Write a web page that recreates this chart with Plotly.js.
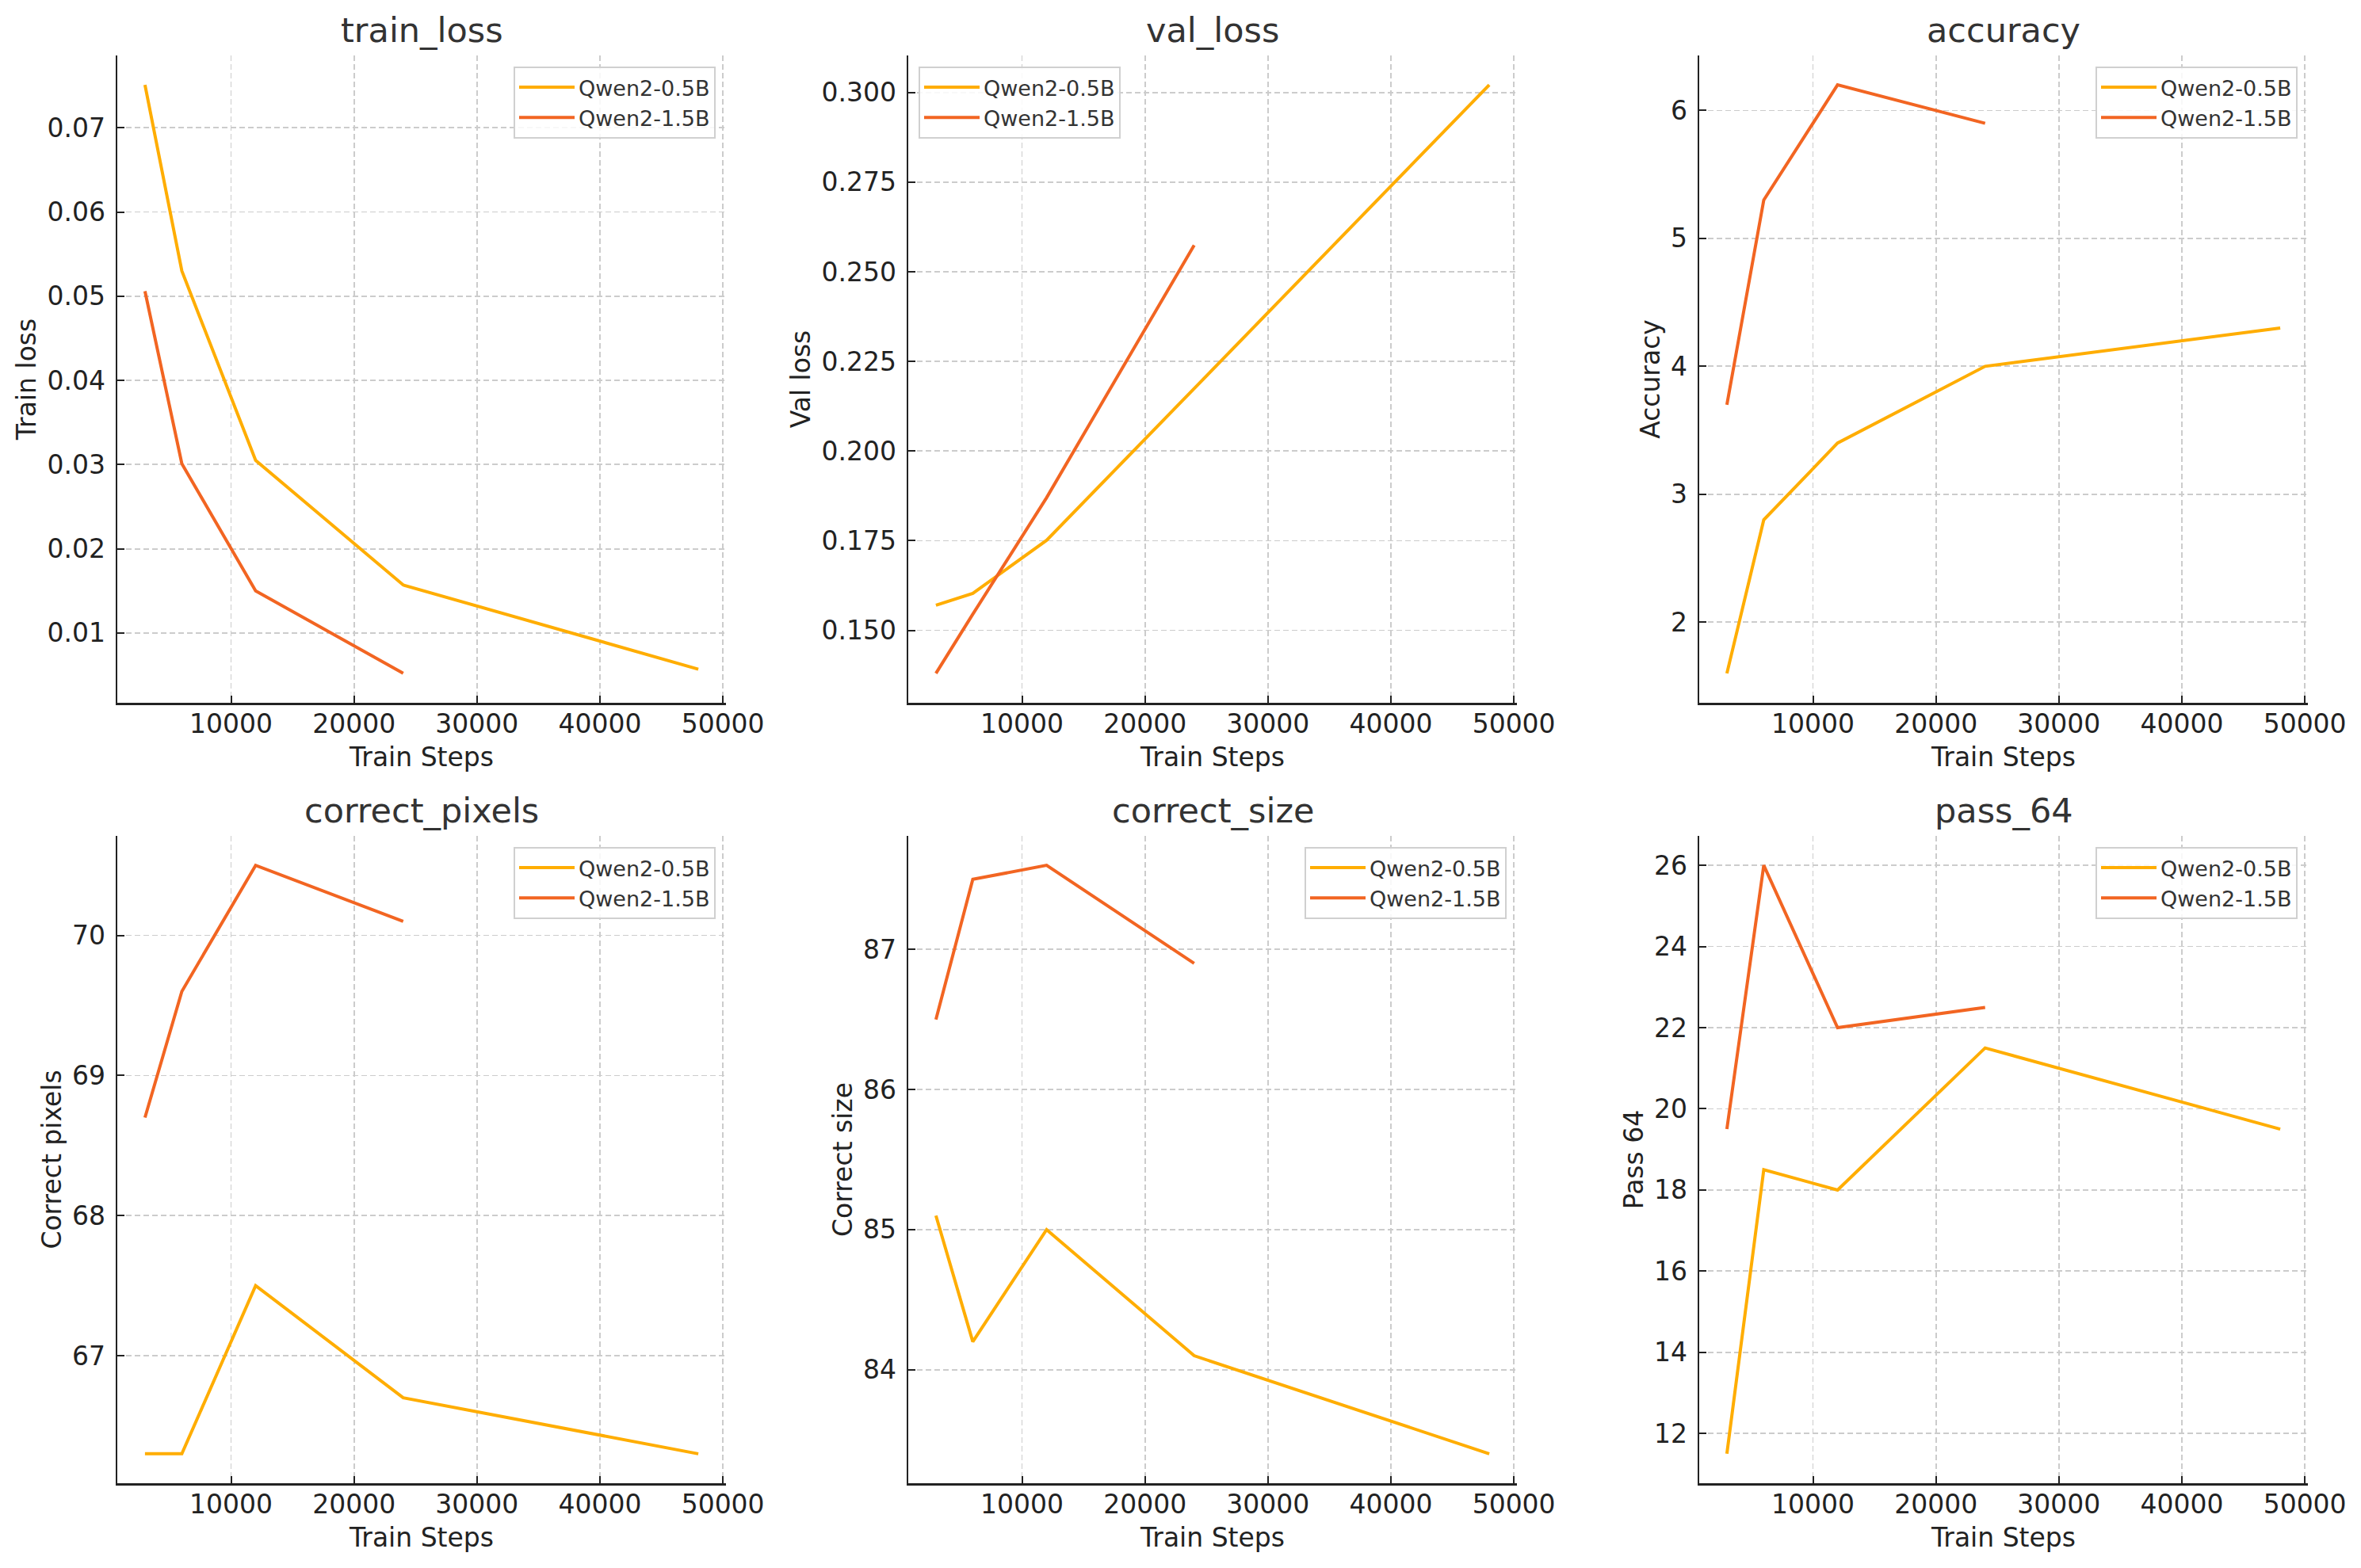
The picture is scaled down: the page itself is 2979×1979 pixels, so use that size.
<!DOCTYPE html>
<html>
<head>
<meta charset="utf-8">
<script src="https://cdn.plot.ly/plotly-3.0.1.min.js"></script>
<style>html,body{margin:0;padding:0;background:#fff;}</style>
</head>
<body>
<div id="chart" style="width:2979px;height:1979px;"></div>
<script>
// ---- data ----
const seriesNames = ["Qwen2-0.5B", "Qwen2-1.5B"];
const steps05 = [3000, 6000, 12000, 24000, 48000];
const steps15 = [3000, 6000, 12000, 24000];

const panelTitles = ["train_loss", "val_loss", "accuracy", "correct_pixels", "correct_size", "pass_64"];
const yLabels = ["Train loss", "Val loss", "Accuracy", "Correct pixels", "Correct size", "Pass 64"];
const xLabel = "Train Steps";
const xTicks = [10000, 20000, 30000, 40000, 50000];

const train_loss_05 = [0.0751, 0.0530, 0.0305, 0.0157, 0.0057];
const train_loss_15 = [0.0506, 0.0301, 0.0150, 0.0052];
const val_loss_05 = [0.157, 0.1603, 0.1751, 0.2175, 0.3021];
const val_loss_15 = [0.138, 0.1545, 0.187, 0.2574];
const accuracy_05 = [1.6, 2.8, 3.4, 4.0, 4.3];
const accuracy_15 = [3.7, 5.3, 6.2, 5.9];
const pixels_05 = [66.3, 66.3, 67.5, 66.7, 66.3];
const pixels_15 = [68.7, 69.6, 70.5, 70.1];
const size_05 = [85.1, 84.2, 85.0, 84.1, 83.4];
const size_15 = [86.5, 87.5, 87.6, 86.9];
const pass_05 = [11.5, 18.5, 18.0, 21.5, 19.5];
const pass_15 = [19.5, 26.0, 22.0, 22.5];

const panelData05 = [train_loss_05, val_loss_05, accuracy_05, pixels_05, size_05, pass_05];
const panelData15 = [train_loss_15, val_loss_15, accuracy_15, pixels_15, size_15, pass_15];

// ---- styling ----
const colors = ["#FFAD00", "#F26522"];
const W = 2979, H = 1979;
const FONT = "DejaVu Sans";
const colPx = [[148, 916], [1146, 1914], [2144, 2912]];
const rowPx = [[70, 887], [1055, 1872]];
const yTickFmt = [".2f", ".3f", "", "", "", ""];
const yDtick = [0.01, 0.025, 1, 1, 1, 2];
const legendSide = ["right", "left", "right", "right", "right", "right"];

function padRange(arr) {
  const mn = Math.min(...arr), mx = Math.max(...arr);
  const p = (mx - mn) * 0.05;
  return [mn - p, mx + p];
}

const traces = [];
const layout = {
  width: W, height: H,
  margin: {l: 0, r: 0, t: 0, b: 0},
  paper_bgcolor: "#ffffff",
  plot_bgcolor: "#ffffff",
  font: {family: FONT, color: "#222222", size: 33},
  showlegend: true,
  annotations: []
};

const xr = padRange(steps05.concat(steps15));

for (let i = 0; i < 6; i++) {
  const r = Math.floor(i / 3), c = i % 3;
  const sfx = i === 0 ? "" : String(i + 1);
  const xa = "xaxis" + sfx, ya = "yaxis" + sfx;
  const lg = i === 0 ? "legend" : "legend" + (i + 1);
  const xd = [colPx[c][0] / W, colPx[c][1] / W];
  const yd = [1 - rowPx[r][1] / H, 1 - rowPx[r][0] / H];

  traces.push({
    x: steps05, y: panelData05[i], type: "scatter", mode: "lines",
    name: seriesNames[0], line: {color: colors[0], width: 4},
    xaxis: "x" + sfx, yaxis: "y" + sfx, legend: lg
  });
  traces.push({
    x: steps15, y: panelData15[i], type: "scatter", mode: "lines",
    name: seriesNames[1], line: {color: colors[1], width: 4},
    xaxis: "x" + sfx, yaxis: "y" + sfx, legend: lg
  });

  const common = {
    showline: true, linecolor: "#222222", linewidth: 2.5,
    ticks: "inside", ticklen: 9, tickwidth: 2, tickcolor: "#222222",
    showgrid: true, gridcolor: "#cccccc", gridwidth: 1.8, griddash: "7px,4px",
    zeroline: false, mirror: false,
    tickfont: {family: FONT, size: 33, color: "#222222"}
  };
  layout[xa] = Object.assign({}, common, {
    domain: xd, anchor: "y" + sfx, range: xr,
    tickmode: "array", tickvals: xTicks, ticktext: xTicks.map(String),
    ticklabelstandoff: -4,
    title: {text: xLabel, font: {family: FONT, size: 33, color: "#222222"}, standoff: 12}
  });
  const yr = padRange(panelData05[i].concat(panelData15[i]));
  layout[ya] = Object.assign({}, common, {
    domain: yd, anchor: "x" + sfx, range: yr,
    dtick: yDtick[i], tick0: 0, tickformat: yTickFmt[i],
    ticklabelstandoff: 6,
    title: {text: yLabels[i], font: {family: FONT, size: 33, color: "#222222"}, standoff: 4}
  });

  const isRight = legendSide[i] === "right";
  layout[lg] = {
    x: isRight ? (colPx[c][1] - 13) / W : (colPx[c][0] + 13) / W,
    xanchor: isRight ? "right" : "left",
    y: 1 - (rowPx[r][0] + 14) / H, yanchor: "top",
    xref: "paper", yref: "paper",
    bgcolor: "rgba(255,255,255,0.85)",
    bordercolor: "#d0d0d0", borderwidth: 2,
    font: {family: FONT, size: 27, color: "#333333"},
    itemwidth: 70,
    tracegroupgap: 0
  };

  layout.annotations.push({
    text: panelTitles[i], xref: "paper", yref: "paper",
    x: (xd[0] + xd[1]) / 2, y: yd[1], xanchor: "center", yanchor: "bottom",
    yshift: 5, showarrow: false,
    font: {family: FONT, size: 43, color: "#333333"}
  });
}

Plotly.newPlot("chart", traces, layout, {staticPlot: true, displayModeBar: false});
</script>
</body>
</html>
